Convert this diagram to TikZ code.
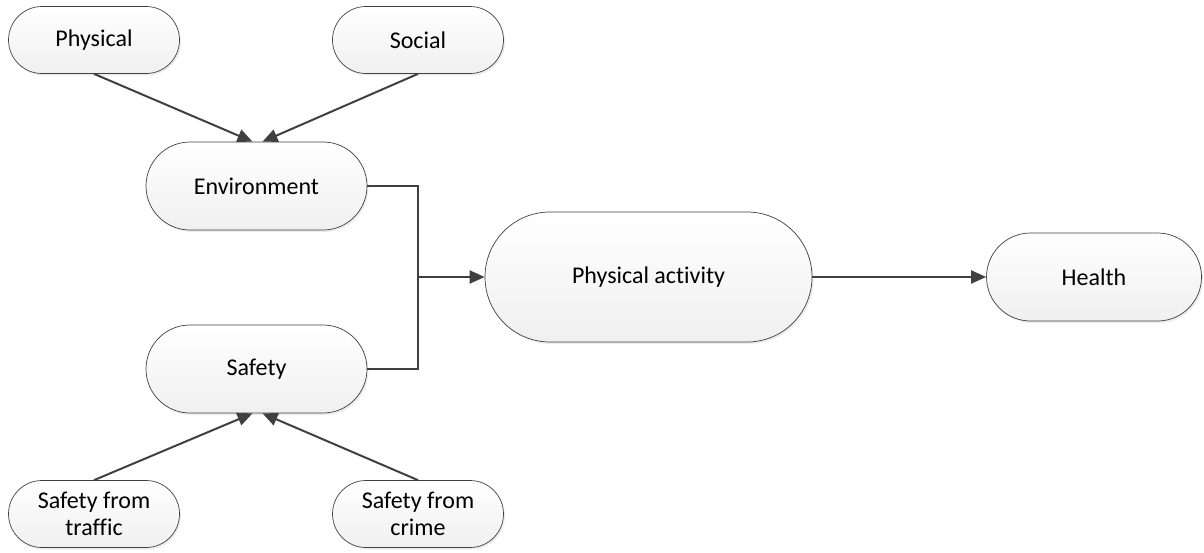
\documentclass[tikz,border=0pt]{standalone}
\usepackage{fontspec}
\setmainfont{Carlito}[Ligatures=NoCommon]
\usetikzlibrary{arrows.meta,shadows,calc}
\begin{document}
\begin{tikzpicture}[x=1pt,y=-1pt,
  box/.style={rectangle, draw=black!75, line width=0.7pt, top color=white, bottom color=black!6,
    drop shadow={opacity=0.15, shadow xshift=1.5pt, shadow yshift=-2pt},
    inner sep=0pt, align=center, font=\fontsize{24}{27.5}\selectfont},
  small/.style={box, minimum width=171pt, minimum height=67pt, rounded corners=33.5pt},
  mid/.style={box, minimum width=221pt, minimum height=88pt, rounded corners=44pt},
  big/.style={box, minimum width=327pt, minimum height=130pt, rounded corners=65pt},
  hbox/.style={box, minimum width=215pt, minimum height=88pt, rounded corners=44pt},
  conn/.style={draw=black!75, line width=2pt},
  arr/.style={conn, -{Triangle[length=15pt,width=13pt]}}]
\useasboundingbox (0,0) rectangle (1204,552);
\node[small] (phys) at (94,40) {Physical};
\node[small] (soc) at (418,40) {Social};
\node[mid] (env) at (256.5,186) {Environment};
\node[mid] (saf) at (256.5,369) {Safety};
\node[small] (traf) at (94,514) {Safety from\\traffic};
\node[small] (crime) at (418,514) {Safety from\\crime};
\node[big] (pa) at (648.5,277) {Physical activity};
\node[hbox] (health) at (1094,277) {Health};
\coordinate (envin1) at ([xshift=-4pt]env.north);
\coordinate (envin2) at ([xshift=6pt]env.north);
\coordinate (safin1) at ([xshift=-4pt]saf.south);
\coordinate (safin2) at ([xshift=6pt]saf.south);
\coordinate (j) at (418,277);
\draw[arr] (phys.south) -- (envin1);
\draw[arr] (soc.south) -- (envin2);
\draw[arr] (traf.north) -- (safin1);
\draw[arr] (crime.north) -- (safin2);
\draw[conn] (env.east) -| (j);
\draw[conn] (saf.east) -| (j);
\draw[arr] (j) -- (pa.west);
\draw[arr] (pa.east) -- (health.west);
\end{tikzpicture}
\end{document}
